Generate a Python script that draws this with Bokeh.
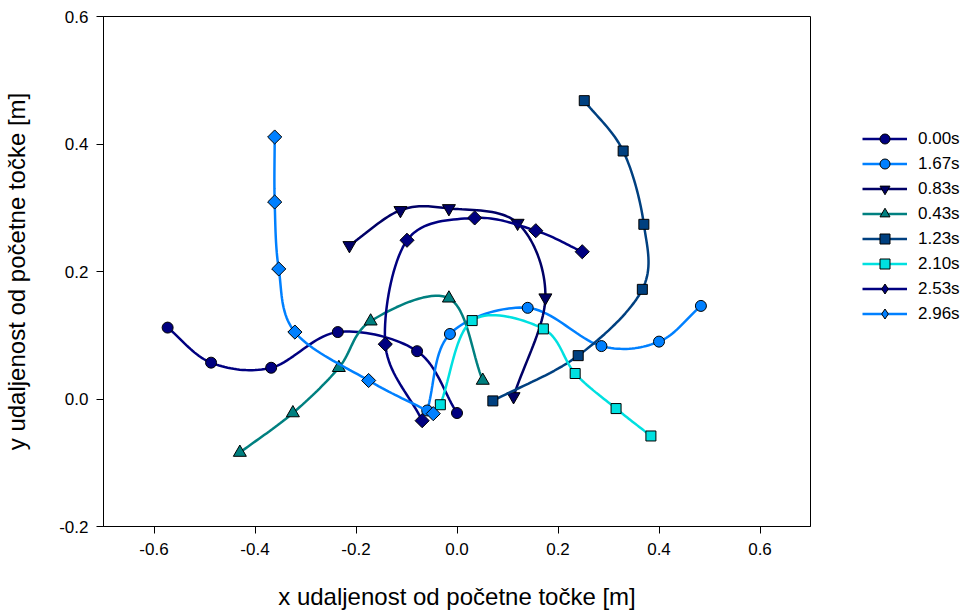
import numpy as np
from bokeh.plotting import figure
from bokeh.layouts import row
from bokeh.models import Range1d, FixedTicker, NumeralTickFormatter, Legend, LegendItem
from bokeh.embed import file_html
from bokeh.resources import INLINE

# ---- data ----
labels = ["0.00s", "1.67s", "0.83s", "0.43s", "1.23s", "2.10s", "2.53s", "2.96s"]

x_000 = [-0.573, -0.487, -0.368, -0.236, -0.079, 0.000]
y_000 = [0.112, 0.057, 0.049, 0.105, 0.075, -0.022]

x_167 = [-0.059, -0.014, 0.140, 0.286, 0.400, 0.483]
y_167 = [-0.018, 0.102, 0.143, 0.083, 0.090, 0.146]

x_083 = [-0.213, -0.112, -0.016, 0.120, 0.175, 0.112]
y_083 = [0.241, 0.296, 0.299, 0.276, 0.159, 0.004]

x_043 = [-0.430, -0.325, -0.234, -0.171, -0.016, 0.051]
y_043 = [-0.084, -0.022, 0.049, 0.122, 0.158, 0.029]

x_123 = [0.071, 0.240, 0.367, 0.370, 0.329, 0.252]
y_123 = [-0.003, 0.068, 0.172, 0.274, 0.389, 0.468]

x_210 = [-0.033, 0.030, 0.171, 0.234, 0.315, 0.384]
y_210 = [-0.009, 0.123, 0.110, 0.040, -0.015, -0.058]

x_253 = [-0.069, -0.142, -0.099, 0.035, 0.156, 0.248]
y_253 = [-0.034, 0.086, 0.249, 0.284, 0.264, 0.231]

x_296 = [-0.361, -0.361, -0.353, -0.321, -0.175, -0.047]
y_296 = [0.411, 0.309, 0.204, 0.105, 0.029, -0.023]

x_ticks = [-0.6, -0.4, -0.2, 0.0, 0.2, 0.4, 0.6]
y_ticks = [-0.2, 0.0, 0.2, 0.4, 0.6]

# (x, y, colour, plot marker, size, angle, legend marker)
series = [
    (x_000, y_000, "#000080", "circle", 11, 0, "circle"),
    (x_167, y_167, "#0080FF", "circle", 11, 0, "circle"),
    (x_083, y_083, "#000066", "inverted_triangle", 13, 0, "inverted_triangle"),
    (x_043, y_043, "#008080", "triangle", 13, 0, "triangle"),
    (x_123, y_123, "#004080", "square", 10, 0, "square"),
    (x_210, y_210, "#00E0E0", "square", 10, 0, "square"),
    (x_253, y_253, "#000080", "square", 10, np.pi / 4, "diamond"),
    (x_296, y_296, "#0080FF", "square", 10, np.pi / 4, "diamond"),
]


def smooth(xs, ys, n=20):
    """Catmull-Rom curve through the data points (rendering of the line only)."""
    P = np.column_stack([xs, ys]).astype(float)
    P = np.vstack([2 * P[0] - P[1], P, 2 * P[-1] - P[-2]])
    out = []
    t = np.linspace(0, 1, n, endpoint=False)[:, None]
    for i in range(1, len(P) - 2):
        p0, p1, p2, p3 = P[i - 1], P[i], P[i + 1], P[i + 2]
        seg = 0.5 * ((2 * p1) + (-p0 + p2) * t + (2 * p0 - 5 * p1 + 4 * p2 - p3) * t ** 2
                     + (-p0 + 3 * p1 - 3 * p2 + p3) * t ** 3)
        out.append(seg)
    out.append(P[-2][None, :])
    out = np.vstack(out)
    return out[:, 0], out[:, 1]


FONT = "Liberation Sans"

p = figure(width=820, height=612, output_backend="svg", toolbar_location=None,
           x_range=Range1d(-0.7, 0.7), y_range=Range1d(-0.2, 0.6),
           min_border_left=102, min_border_right=10, min_border_top=16, min_border_bottom=85)

p.xgrid.visible = False
p.ygrid.visible = False
p.outline_line_color = "black"
p.outline_line_width = 1
p.background_fill_color = "white"
p.border_fill_color = "white"

for ax, ticks in ((p.xaxis[0], x_ticks), (p.yaxis[0], y_ticks)):
    ax.ticker = FixedTicker(ticks=ticks)
    ax.formatter = NumeralTickFormatter(format="0.0")
    ax.minor_tick_line_color = None
    ax.major_tick_in = 0
    ax.major_tick_out = 7
    ax.axis_line_color = "black"
    ax.major_tick_line_color = "black"
    ax.major_label_text_font = FONT
    ax.major_label_text_font_size = "17px"
    ax.major_label_text_color = "black"
    ax.axis_label_text_font = FONT
    ax.axis_label_text_font_size = "24px"
    ax.axis_label_text_font_style = "normal"
    ax.axis_label_text_color = "black"

p.xaxis.axis_label = "x udaljenost od početne točke [m]"
p.yaxis.axis_label = "y udaljenost od početne točke [m]"
p.xaxis.major_label_standoff = 9
p.yaxis.major_label_standoff = 8
p.xaxis.axis_label_standoff = 25
p.yaxis.axis_label_standoff = 26

# legend lives in a narrow companion figure to the right of the frame;
# its renderers carry the same data but its ranges keep them off-canvas
q = figure(width=150, height=612, output_backend="svg", toolbar_location=None,
           title=None, x_range=Range1d(10, 11), y_range=Range1d(10, 11),
           x_axis_location=None, y_axis_location=None,
           min_border_left=0, min_border_right=0, min_border_top=0, min_border_bottom=0)
q.xgrid.visible = False
q.ygrid.visible = False
q.outline_line_color = None
q.background_fill_color = "white"
q.border_fill_color = "white"

items = []
for (xs, ys, col, mk, sz, ang, lmk), lab in zip(series, labels):
    sx, sy = smooth(xs, ys)
    p.line(sx, sy, line_color=col, line_width=2.5)
    p.scatter(xs, ys, marker=mk, size=sz, angle=ang, fill_color=col,
              line_color="black", line_width=1)
    lr = q.line(sx, sy, line_color=col, line_width=2.5)
    mr = q.scatter(xs, ys, marker=lmk, size=sz, fill_color=col,
                   line_color="black", line_width=1)
    items.append(LegendItem(label=lab, renderers=[lr, mr]))

legend = Legend(items=items, location=(42, 200), glyph_width=45, glyph_height=25,
                label_height=25, spacing=0, padding=10, label_standoff=11,
                label_text_font=FONT, label_text_font_size="17px",
                label_text_color="black",
                border_line_color=None, background_fill_alpha=0, margin=0)
q.add_layout(legend, "center")

layout = row(p, q)
open("out.html", "w").write(file_html(layout, INLINE))
